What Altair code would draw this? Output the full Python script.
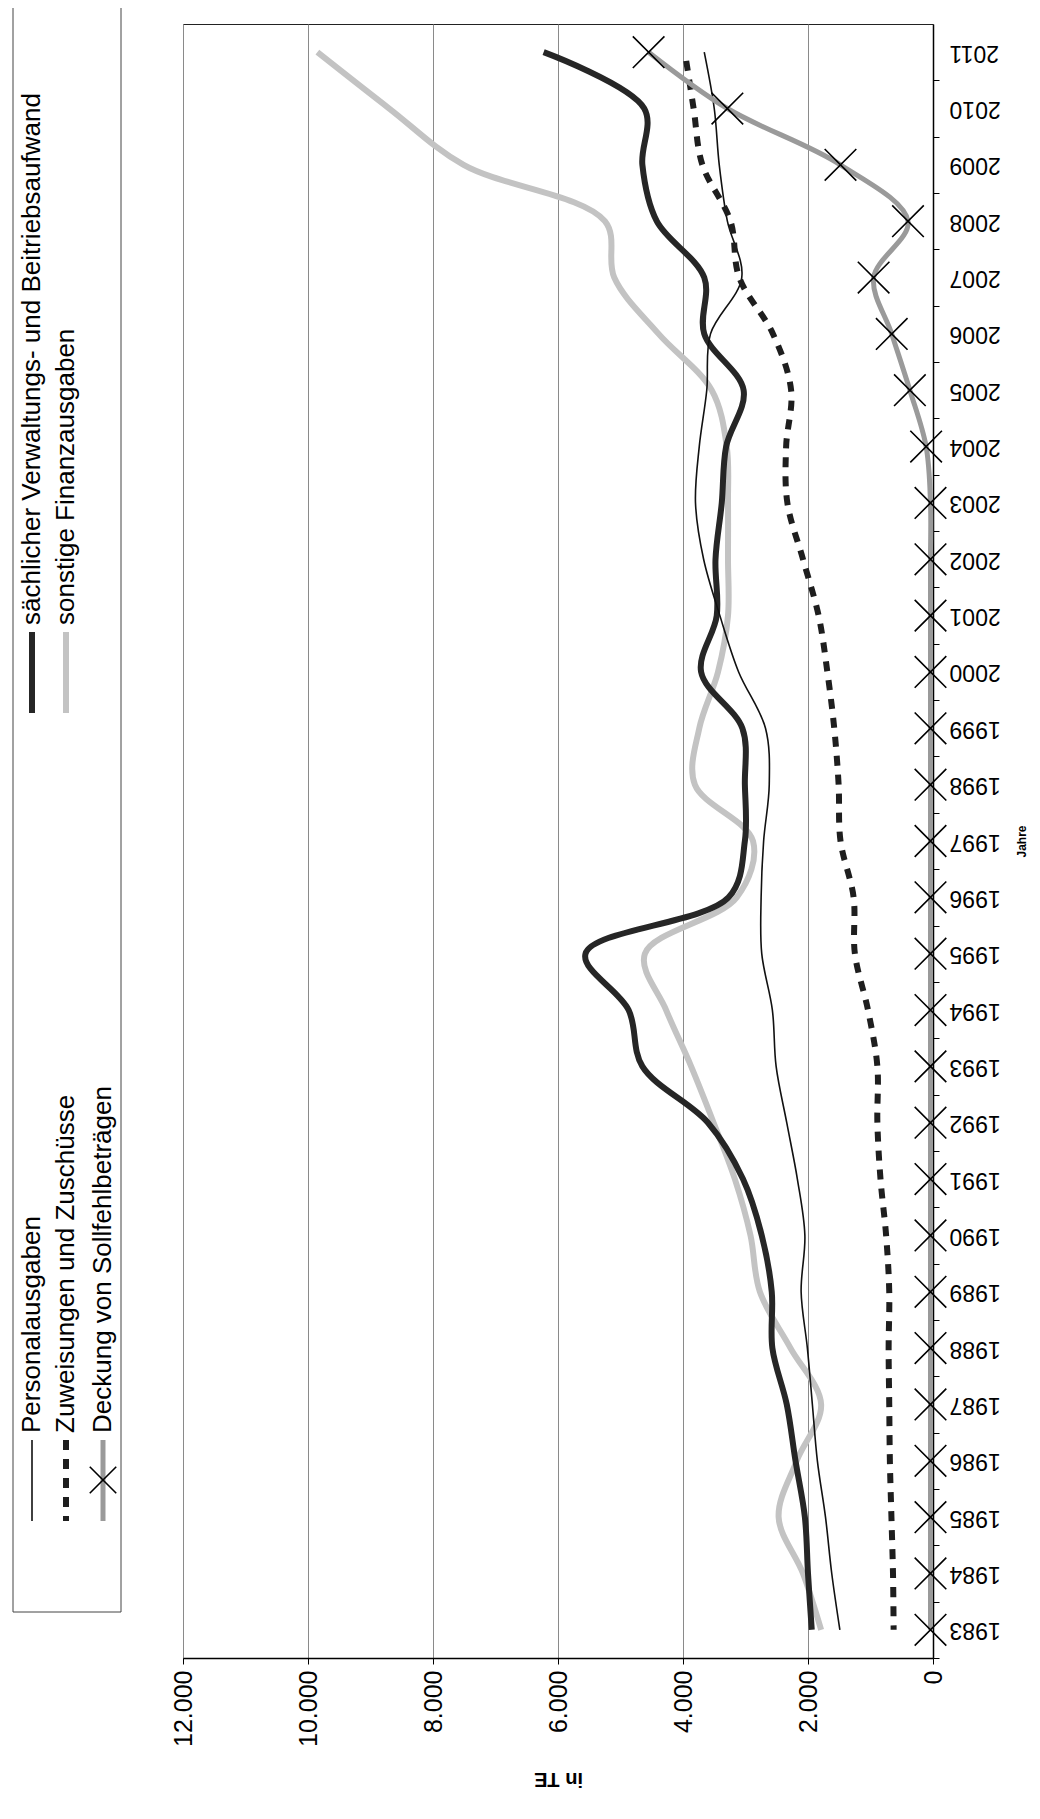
import altair as alt
import pandas as pd

years = list(range(1983, 2012))

personal = [1490, 1620, 1720, 1850, 1930, 2010, 2110, 2050, 2170, 2340,
            2510, 2570, 2740, 2750, 2710, 2620, 2680, 3110, 3410, 3670,
            3800, 3740, 3620, 3560, 3060, 3290, 3420, 3500, 3660]
zuweis = [630, 640, 665, 690, 700, 710, 700, 750, 840, 890,
          890, 1040, 1250, 1270, 1480, 1510, 1580, 1690, 1830, 2080,
          2330, 2350, 2270, 2560, 3100, 3240, 3690, 3830, 3970]
deckung = [40, 40, 40, 40, 40, 40, 40, 40, 40, 40,
           40, 40, 40, 40, 40, 40, 40, 40, 40, 40,
           40, 110, 370, 660, 950, 400, 1480, 3290, 4550]
sachlich = [1940, 2000, 2050, 2200, 2340, 2570, 2580, 2740, 3040, 3600,
            4650, 4870, 5560, 3270, 3010, 3010, 3050, 3710, 3460, 3480,
            3380, 3310, 3030, 3660, 3660, 4420, 4650, 4620, 6230]
sonstige = [1790, 2080, 2470, 2180, 1790, 2280, 2770, 2920, 3170, 3510,
            3870, 4270, 4610, 3140, 2880, 3810, 3740, 3440, 3280, 3280,
            3280, 3300, 3540, 4390, 5100, 5250, 7510, 8700, 9850]

names = ["Personalausgaben", "Zuweisungen und Zuschüsse",
         "Deckung von Sollfehlbeträgen",
         "sächlicher Verwaltungs- und Beitriebsaufwand",
         "sonstige Finanzausgaben"]
series = [personal, zuweis, deckung, sachlich, sonstige]

rows = []
for name, vals in zip(names, series):
    for yr, v in zip(years, vals):
        rows.append({"Jahr": yr, "Wert": v, "Reihe": name})
df = pd.DataFrame(rows)

W, H = 750, 1634
STEP = H / len(years)
FONT = "Liberation Sans"
XPATH = "M -1 -1 L 1 1 M -1 1 L 1 -1"

styles = {
    "sonstige Finanzausgaben": dict(color="#c3c3c3", strokeWidth=6),
    "sächlicher Verwaltungs- und Beitriebsaufwand": dict(color="#262626", strokeWidth=6),
    "Personalausgaben": dict(color="#111111", strokeWidth=1.6),
    "Zuweisungen und Zuschüsse": dict(color="#1e1e1e", strokeWidth=6, strokeDash=[10, 9]),
    "Deckung von Sollfehlbeträgen": dict(color="#9a9a9a", strokeWidth=5),
}
draw_order = ["sonstige Finanzausgaben",
              "sächlicher Verwaltungs- und Beitriebsaufwand",
              "Personalausgaben", "Zuweisungen und Zuschüsse",
              "Deckung von Sollfehlbeträgen"]

x_axis = alt.Axis(
    values=list(range(0, 12001, 2000)),
    labelExpr="replace(format(datum.value, ','), ',', '.')",
    labelAngle=270, labelAlign="right", labelBaseline="middle",
    labelFontSize=25, labelPadding=6, labelColor="black", labelFlush=False,
    tickSize=6, tickColor="black", domainColor="black", domainWidth=1.5,
    grid=True, gridColor="#8a8a8a", gridWidth=1,
    title="in TE", titleAngle=180, titleBaseline="middle", titleY=120,
    titleFontSize=20, titleFontWeight="bold", titleColor="black",
)
y_axis = alt.Axis(
    orient="right", labelAngle=180, labelAlign="right", labelBaseline="middle",
    labelFontSize=23, labelPadding=10, labelColor="black",
    tickSize=6, tickOffset=STEP / 2, labelOffset=-STEP / 2,
    tickColor="black", domainColor="black", domainWidth=1.5, grid=False,
    title="Jahre", titleAngle=270, titleFontSize=12, titleFontWeight="bold",
    titleX=88, titleY=H / 2, titleAlign="center", titleBaseline="middle",
    titleColor="black",
)

x_scale = alt.Scale(domain=[0, 12000], reverse=True, nice=False)
y_scale = alt.Scale(type="point", padding=0.5)


def xy():
    return dict(
        x=alt.X("Wert:Q", scale=x_scale, axis=x_axis),
        y=alt.Y("Jahr:O", sort="descending", scale=y_scale, axis=y_axis),
    )


layers = []
for name in draw_order:
    st = dict(styles[name])
    order = alt.Order("Jahr:Q")
    if name == "Zuweisungen und Zuschüsse":
        st["strokeDashOffset"] = 10
        order = alt.Order("Jahr:Q", sort="descending")
    layers.append(
        alt.Chart(df).transform_filter(alt.datum.Reihe == name)
        .mark_line(interpolate="catmull-rom", **st)
        .encode(order=order, **xy())
    )

layers.append(
    alt.Chart(df).transform_filter(alt.datum.Reihe == "Deckung von Sollfehlbeträgen")
    .mark_point(shape=XPATH, size=1000, color="black", strokeWidth=1.6,
                filled=False, opacity=1)
    .encode(**xy())
)

# ---- legend (rotated, drawn by hand) ----
one = alt.Data(values=[{"k": 1}])
layers.append(
    alt.Chart(one).mark_rect(fill="transparent", stroke="#444", strokeWidth=1)
    .encode(x=alt.value(-170), x2=alt.value(-62), y=alt.value(-22), y2=alt.value(1588))
)
leg_x = {"Personalausgaben": -151, "Zuweisungen und Zuschüsse": -117,
         "Deckung von Sollfehlbeträgen": -80,
         "sächlicher Verwaltungs- und Beitriebsaufwand": -151,
         "sonstige Finanzausgaben": -117}
leg_y = {"Personalausgaben": 1409, "Zuweisungen und Zuschüsse": 1409,
         "Deckung von Sollfehlbeträgen": 1409,
         "sächlicher Verwaltungs- und Beitriebsaufwand": 601,
         "sonstige Finanzausgaben": 601}
for name in names:
    lx, ly = leg_x[name], leg_y[name]
    st = dict(styles[name])
    layers.append(
        alt.Chart(one).mark_rule(**st)
        .encode(x=alt.value(lx), y=alt.value(ly + 7), y2=alt.value(ly + 88))
    )
    layers.append(
        alt.Chart(one).mark_text(text=name, angle=270, align="left", baseline="middle",
                                 fontSize=26, font=FONT, color="black")
        .encode(x=alt.value(lx), y=alt.value(ly))
    )
layers.append(
    alt.Chart(one).mark_point(shape=XPATH, size=700, color="black", strokeWidth=1.6,
                              filled=False, opacity=1)
    .encode(x=alt.value(leg_x["Deckung von Sollfehlbeträgen"]), y=alt.value(1409 + 47))
)

chart = (
    alt.layer(*layers)
    .properties(width=W, height=H,
                padding={"left": 175, "top": 16, "right": 95, "bottom": 150},
                autosize=alt.AutoSizeParams(type="none"))
    .configure(font=FONT)
    .configure_view(stroke="#222", strokeWidth=1)
    .configure_axis(labelFont=FONT, titleFont=FONT)
)

chart.save("out.html", embed_options={"renderer": "svg", "actions": False})
